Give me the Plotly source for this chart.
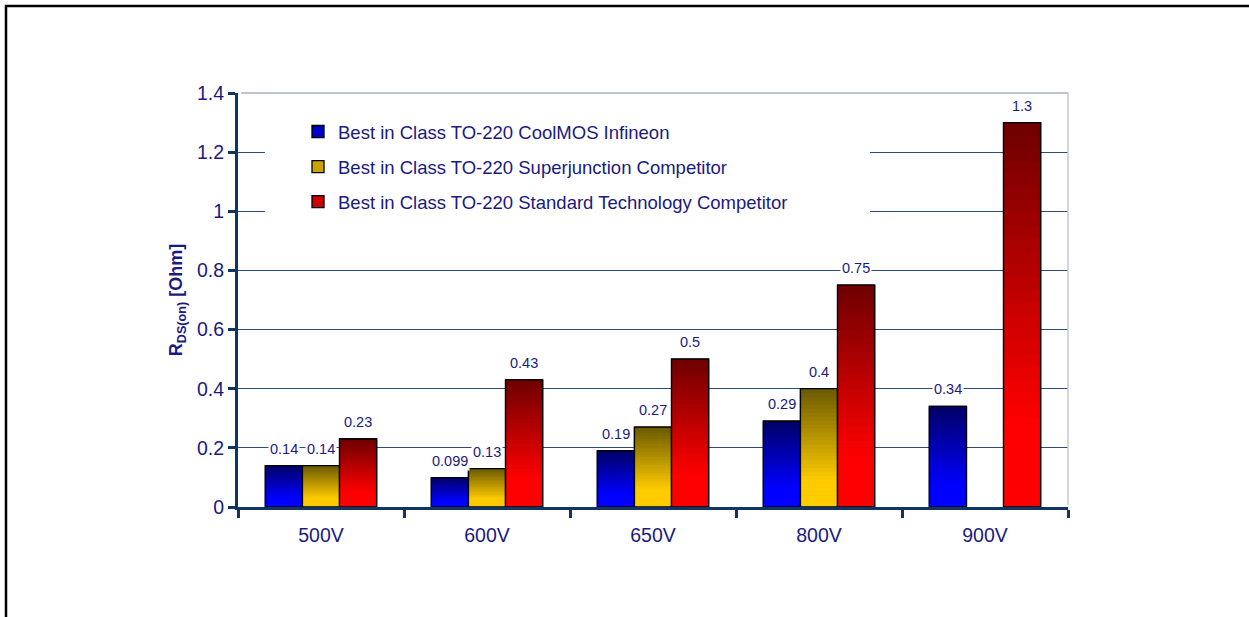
import plotly.graph_objects as go

categories = ["500V", "600V", "650V", "800V", "900V"]
series_names = [
    "Best in Class TO-220 CoolMOS Infineon",
    "Best in Class TO-220 Superjunction Competitor",
    "Best in Class TO-220 Standard Technology Competitor",
]
coolmos = [0.14, 0.099, 0.19, 0.29, 0.34]
superjunction = [0.14, 0.13, 0.27, 0.4, None]
standard = [0.23, 0.43, 0.5, 0.75, 1.3]
series_values = [coolmos, superjunction, standard]
value_labels = [
    ["0.14", "0.099", "0.19", "0.29", "0.34"],
    ["0.14", "0.13", "0.27", "0.4", None],
    ["0.23", "0.43", "0.5", "0.75", "1.3"],
]

# gradient colours: (bright bottom, dark top)
grad = [((0, 0, 255), (0, 0, 102)),
        ((255, 204, 0), (107, 90, 0)),
        ((255, 0, 0), (110, 0, 0))]
offsets = [-0.335, -0.1117, 0.1117]
bw = 0.2233
N = 30
NAVY = "#1a1a80"
AXIS = "#0f3566"
FONT = "Arial, Liberation Sans, sans-serif"


def color_at(s, t):
    lo, hi = grad[s]
    f = 0.0 if t < 0.22 else min(1.0, (t - 0.22) / 0.78)
    c = [round(lo[k] + (hi[k] - lo[k]) * f) for k in range(3)]
    return "rgb(%d,%d,%d)" % tuple(c)


fig = go.Figure()
for s, vals in enumerate(series_values):
    # base full bar (legend entry)
    fig.add_trace(go.Bar(
        x=categories, y=vals, name=series_names[s], width=bw, offset=offsets[s],
        marker=dict(color=color_at(s, 0.5), line=dict(color="black", width=1.3)),
        legendgroup=f"g{s}", showlegend=True, hoverinfo="skip"))
    # gradient slices
    for i in range(N):
        t = (i + 0.5) / N
        col = color_at(s, t)
        fig.add_trace(go.Bar(
            x=categories,
            y=[None if v is None else v / N for v in vals],
            base=[None if v is None else v * i / N for v in vals],
            width=bw, offset=offsets[s],
            marker=dict(color=col, line=dict(color=col, width=0.8)),
            showlegend=False, hoverinfo="skip", legendgroup=f"g{s}"))
    # outline
    fig.add_trace(go.Bar(
        x=categories, y=vals, width=bw, offset=offsets[s],
        marker=dict(color="rgba(0,0,0,0)", line=dict(color="black", width=1.3)),
        showlegend=False, hoverinfo="skip", legendgroup=f"g{s}"))

annotations = []
for s, vals in enumerate(series_values):
    for c, v in enumerate(vals):
        if v is None:
            continue
        annotations.append(dict(
            x=categories[c], y=v, text=value_labels[s][c], showarrow=False,
            xshift=(offsets[s] + bw / 2) * 166, yanchor="bottom", yshift=7,
            bgcolor="white", borderpad=1,
            font=dict(family=FONT, size=14.5, color=NAVY)))

L, R, T, B = 238, 181, 93, 110
PW, PH = 1249 - L - R, 617 - T - B


def px_x(px):
    return (px - L) / PW


def px_y(py):
    return (617 - B - py) / PH


shapes = [
    # legend white box covering gridlines
    dict(type="rect", xref="paper", yref="paper", x0=px_x(265), x1=px_x(870),
         y0=px_y(228), y1=px_y(100), fillcolor="white", line=dict(width=0), layer="above"),
    # top and right border of plot area
    dict(type="line", xref="paper", yref="paper", x0=0.004, x1=1, y0=1, y1=1,
         line=dict(color="#a8b0bc", width=1.5), layer="above"),
    dict(type="line", xref="paper", yref="paper", x0=1, x1=1, y0=0.004, y1=1,
         line=dict(color="#c4c8d0", width=1.5), layer="above"),
    # outer frame
    dict(type="rect", xref="paper", yref="paper", x0=px_x(6), x1=px_x(1300),
         y0=px_y(680), y1=px_y(6), line=dict(color="black", width=2.5),
         fillcolor="rgba(0,0,0,0)", layer="above"),
]

fig.update_layout(
    width=1249, height=617,
    margin=dict(l=L, r=R, t=T, b=B),
    paper_bgcolor="white", plot_bgcolor="white",
    barmode="overlay",
    font=dict(family=FONT, color=NAVY),
    showlegend=True,
    legend=dict(x=px_x(298), y=px_y(113), xanchor="left", yanchor="top",
                bgcolor="rgba(0,0,0,0)", font=dict(family=FONT, size=18.5, color=NAVY),
                tracegroupgap=8, traceorder="grouped"),
    annotations=annotations,
    shapes=shapes,
    xaxis=dict(
        type="category", categoryorder="array", categoryarray=categories,
        showline=True, linecolor=AXIS, linewidth=3,
        ticks="outside", tickson="boundaries", ticklen=8, tickwidth=3, tickcolor=AXIS,
        tickfont=dict(family=FONT, size=19.5, color=NAVY), ticklabelstandoff=9,
        showgrid=False, zeroline=False, range=[-0.5, 4.5]),
    yaxis=dict(
        range=[0, 1.4], dtick=0.2, tick0=0,
        showline=True, linecolor=AXIS, linewidth=3,
        ticks="outside", ticklen=7, tickwidth=3, tickcolor=AXIS,
        tickfont=dict(family=FONT, size=19.5, color=NAVY),
        showgrid=True, gridcolor="#2e4c75", gridwidth=1, zeroline=False,
        title=dict(text="<b>R<sub>DS(on)</sub> [Ohm]</b>",
                   font=dict(family=FONT, size=18, color=NAVY), standoff=10),
        tickformat="~g"),
)

fig.write_html("out.html", post_script="document.body.style.margin='0';",
               config={"displayModeBar": False})
